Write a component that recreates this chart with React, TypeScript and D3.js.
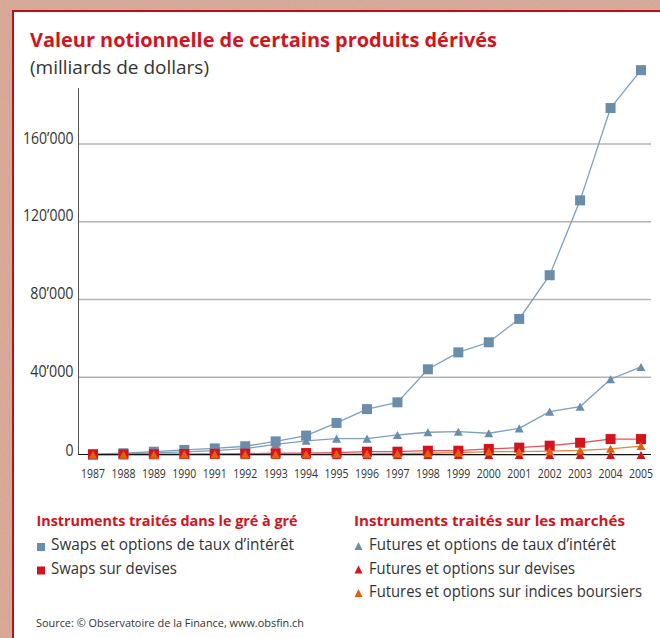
import React from "react";
import * as d3 from "d3";

const years = [1987, 1988, 1989, 1990, 1991, 1992, 1993, 1994, 1995, 1996, 1997, 1998, 1999, 2000, 2001, 2002, 2003, 2004, 2005];
const irSwaps = [500, 900, 1700, 2600, 3400, 4500, 7000, 10000, 16500, 23600, 27100, 44100, 52800, 58000, 70000, 92500, 131000, 178500, 198000];
const irFutures = [300, 600, 1100, 1600, 2300, 3300, 5500, 7300, 8400, 8400, 10300, 11700, 12000, 11200, 13700, 22300, 24900, 39000, 45300];
const currencySwaps = [200, 300, 400, 500, 600, 700, 900, 1000, 1200, 1700, 1700, 2200, 2200, 3100, 3800, 4800, 6300, 8200, 8200];
const currencyFutures = [0, 0, 0, 0, 0, 0, 0, 0, 0, 0, 0, 0, 0, 0, 0, 0, 0, 0, 0];
const indexFutures = [100, 150, 200, 300, 300, 300, 300, 400, 500, 600, 700, 900, 1200, 1700, 1700, 2000, 2400, 3200, 4600];
const yTicks = [0, 40000, 80000, 120000, 160000];
const yTickLabels = ["0", "40’000", "80’000", "120’000", "160’000"];

const title = "Valeur notionnelle de certains produits dérivés";
const subtitle = "(milliards de dollars)";
const legendLeftHeader = "Instruments traités dans le gré à gré";
const legendRightHeader = "Instruments traités sur les marchés";
const source = "Source: © Observatoire de la Finance, www.obsfin.ch";

const FONT = "'Open Sans', sans-serif";
const BLUE = "#6a8dab";
const BLUE_LINE = "#7f9fba";
const RED = "#d3141e";
const RED_LINE = "#e2545c";
const RED_TRI_LINE = "#ec8a90";
const ORANGE = "#e2600c";
const ORANGE_LINE = "#ea8238";
const TEXT = "#333333";

type Series = { name: string; values: number[]; shape: "square" | "triangle"; color: string; line: string };
const series: Series[] = [
  { name: "Swaps et options de taux d’intérêt", values: irSwaps, shape: "square", color: BLUE, line: BLUE_LINE },
  { name: "Futures et options de taux d’intérêt", values: irFutures, shape: "triangle", color: BLUE, line: BLUE_LINE },
  { name: "Swaps sur devises", values: currencySwaps, shape: "square", color: RED, line: RED_LINE },
  { name: "Futures et options sur devises", values: currencyFutures, shape: "triangle", color: RED, line: RED_TRI_LINE },
  { name: "Futures et options sur indices boursiers", values: indexFutures, shape: "triangle", color: ORANGE, line: ORANGE_LINE },
];

function Marker({ shape, x, y, color, s }: { shape: string; x: number; y: number; color: string; s: number }) {
  if (shape === "square") {
    return <rect x={x - s / 2} y={y - s / 2} width={s} height={s} fill={color} />;
  }
  const h = s * 0.9;
  return <path d={`M${x},${y - h / 2}L${x + s / 2},${y + h / 2}L${x - s / 2},${y + h / 2}Z`} fill={color} />;
}

export default function App() {
  const W = 660, H = 638;
  const x = d3.scaleLinear().domain([1987, 2005]).range([93, 641]);
  const y = d3.scaleLinear().domain([0, 160000]).range([455, 144]);
  const axisX = 78.5;
  const axisTop = 88;
  const plotRight = 651;
  const line = d3.line<number>().x((_, i) => x(years[i])).y((v) => y(v));
  const tickWidth = (s: string) => (s.length === 1 ? 8 : s.length * 7.2);

  return (
    <svg width={W} height={H} style={{ position: "absolute", left: 0, top: 0 }} fontFamily={FONT}>
      <defs>
        <filter id="tex" x="0" y="0" width="100%" height="100%">
          <feTurbulence type="fractalNoise" baseFrequency="0.6" numOctaves="2" seed="3" result="n" />
          <feColorMatrix in="n" type="matrix" values="0 0 0 0 0.84  0 0 0 0 0.64  0 0 0 0 0.57  0 0 0 0.35 0" result="c" />
          <feComposite in="c" in2="SourceGraphic" operator="over" />
        </filter>
      </defs>
      <rect x={0} y={0} width={W} height={H} fill="#d3a090" />
      <rect x={0} y={0} width={W} height={H} fill="#d6a594" filter="url(#tex)" opacity={0.6} />
      <rect x={12} y={10} width={W - 12} height={H - 10} fill="#ffffff" />
      <line x1={13} y1={10} x2={13} y2={H} stroke="#b5121c" strokeWidth={2} />
      <line x1={12} y1={11} x2={W} y2={11} stroke="#b5121c" strokeWidth={2} />

      <text x={30} y={47} fill="#d2141e" fontWeight="bold" fontSize={19.5} textLength={467} lengthAdjust="spacingAndGlyphs">{title}</text>
      <text x={30} y={74} fill={TEXT} fontSize={18} textLength={179} lengthAdjust="spacingAndGlyphs">{subtitle}</text>

      {yTicks.slice(1).map((t) => (
        <line key={t} x1={axisX} x2={plotRight} y1={y(t)} y2={y(t)} stroke="#b3b3b3" strokeWidth={1.5} />
      ))}
      {yTicks.map((t, i) => (
        <text key={t} x={73.5} y={y(t) + (t === 0 ? 0.5 : -0.5)} textAnchor="end" fill={TEXT} fontSize={15.5}
          textLength={tickWidth(yTickLabels[i])} lengthAdjust="spacingAndGlyphs">{yTickLabels[i]}</text>
      ))}
      <line x1={axisX} x2={axisX} y1={axisTop} y2={y(0)} stroke="#555" strokeWidth={1} />

      {series.map((s) => (
        <path key={s.name + "l"} d={line(s.values) || ""} fill="none" stroke={s.line} strokeWidth={1.3} />
      ))}
      <line x1={axisX} x2={plotRight} y1={y(0) - 0.5} y2={y(0) - 0.5} stroke="#111" strokeWidth={1.2} />
      {series.map((s) => (
        <g key={s.name + "m"}>
          {s.values.map((v, i) => (
            <Marker key={i} shape={s.shape} x={x(years[i])} y={y(v)} color={s.color} s={s.shape === "square" ? 10 : 9} />
          ))}
        </g>
      ))}

      {years.map((yr) => (
        <text key={yr} x={x(yr)} y={478} textAnchor="middle" fill={TEXT} fontSize={12.5} textLength={24} lengthAdjust="spacingAndGlyphs">{yr}</text>
      ))}

      <text x={36.5} y={526} fill="#d2141e" fontWeight="bold" fontSize={15} textLength={261} lengthAdjust="spacingAndGlyphs">{legendLeftHeader}</text>
      <text x={354} y={526} fill="#d2141e" fontWeight="bold" fontSize={15} textLength={271} lengthAdjust="spacingAndGlyphs">{legendRightHeader}</text>
      {[series[0], series[2]].map((s, i) => (
        <g key={s.name}>
          <rect x={37} y={543 + i * 23.5} width={8} height={8} fill={s.color} />
          <text x={51} y={550 + i * 23.5} fill={TEXT} fontSize={15.5} textLength={i === 0 ? 243 : 126} lengthAdjust="spacingAndGlyphs">{s.name}</text>
        </g>
      ))}
      {[series[1], series[3], series[4]].map((s, i) => (
        <g key={s.name}>
          <path d={`M${358.5},${542 + i * 23.5}L${362.5},${550 + i * 23.5}L${354.5},${550 + i * 23.5}Z`} fill={s.color} />
          <text x={369} y={550 + i * 23.5} fill={TEXT} fontSize={15.5} textLength={[247, 206, 273][i]} lengthAdjust="spacingAndGlyphs">{s.name}</text>
        </g>
      ))}

      <text x={36} y={627} fill={TEXT} fontSize={11} textLength={268} lengthAdjust="spacingAndGlyphs">{source}</text>
    </svg>
  );
}
